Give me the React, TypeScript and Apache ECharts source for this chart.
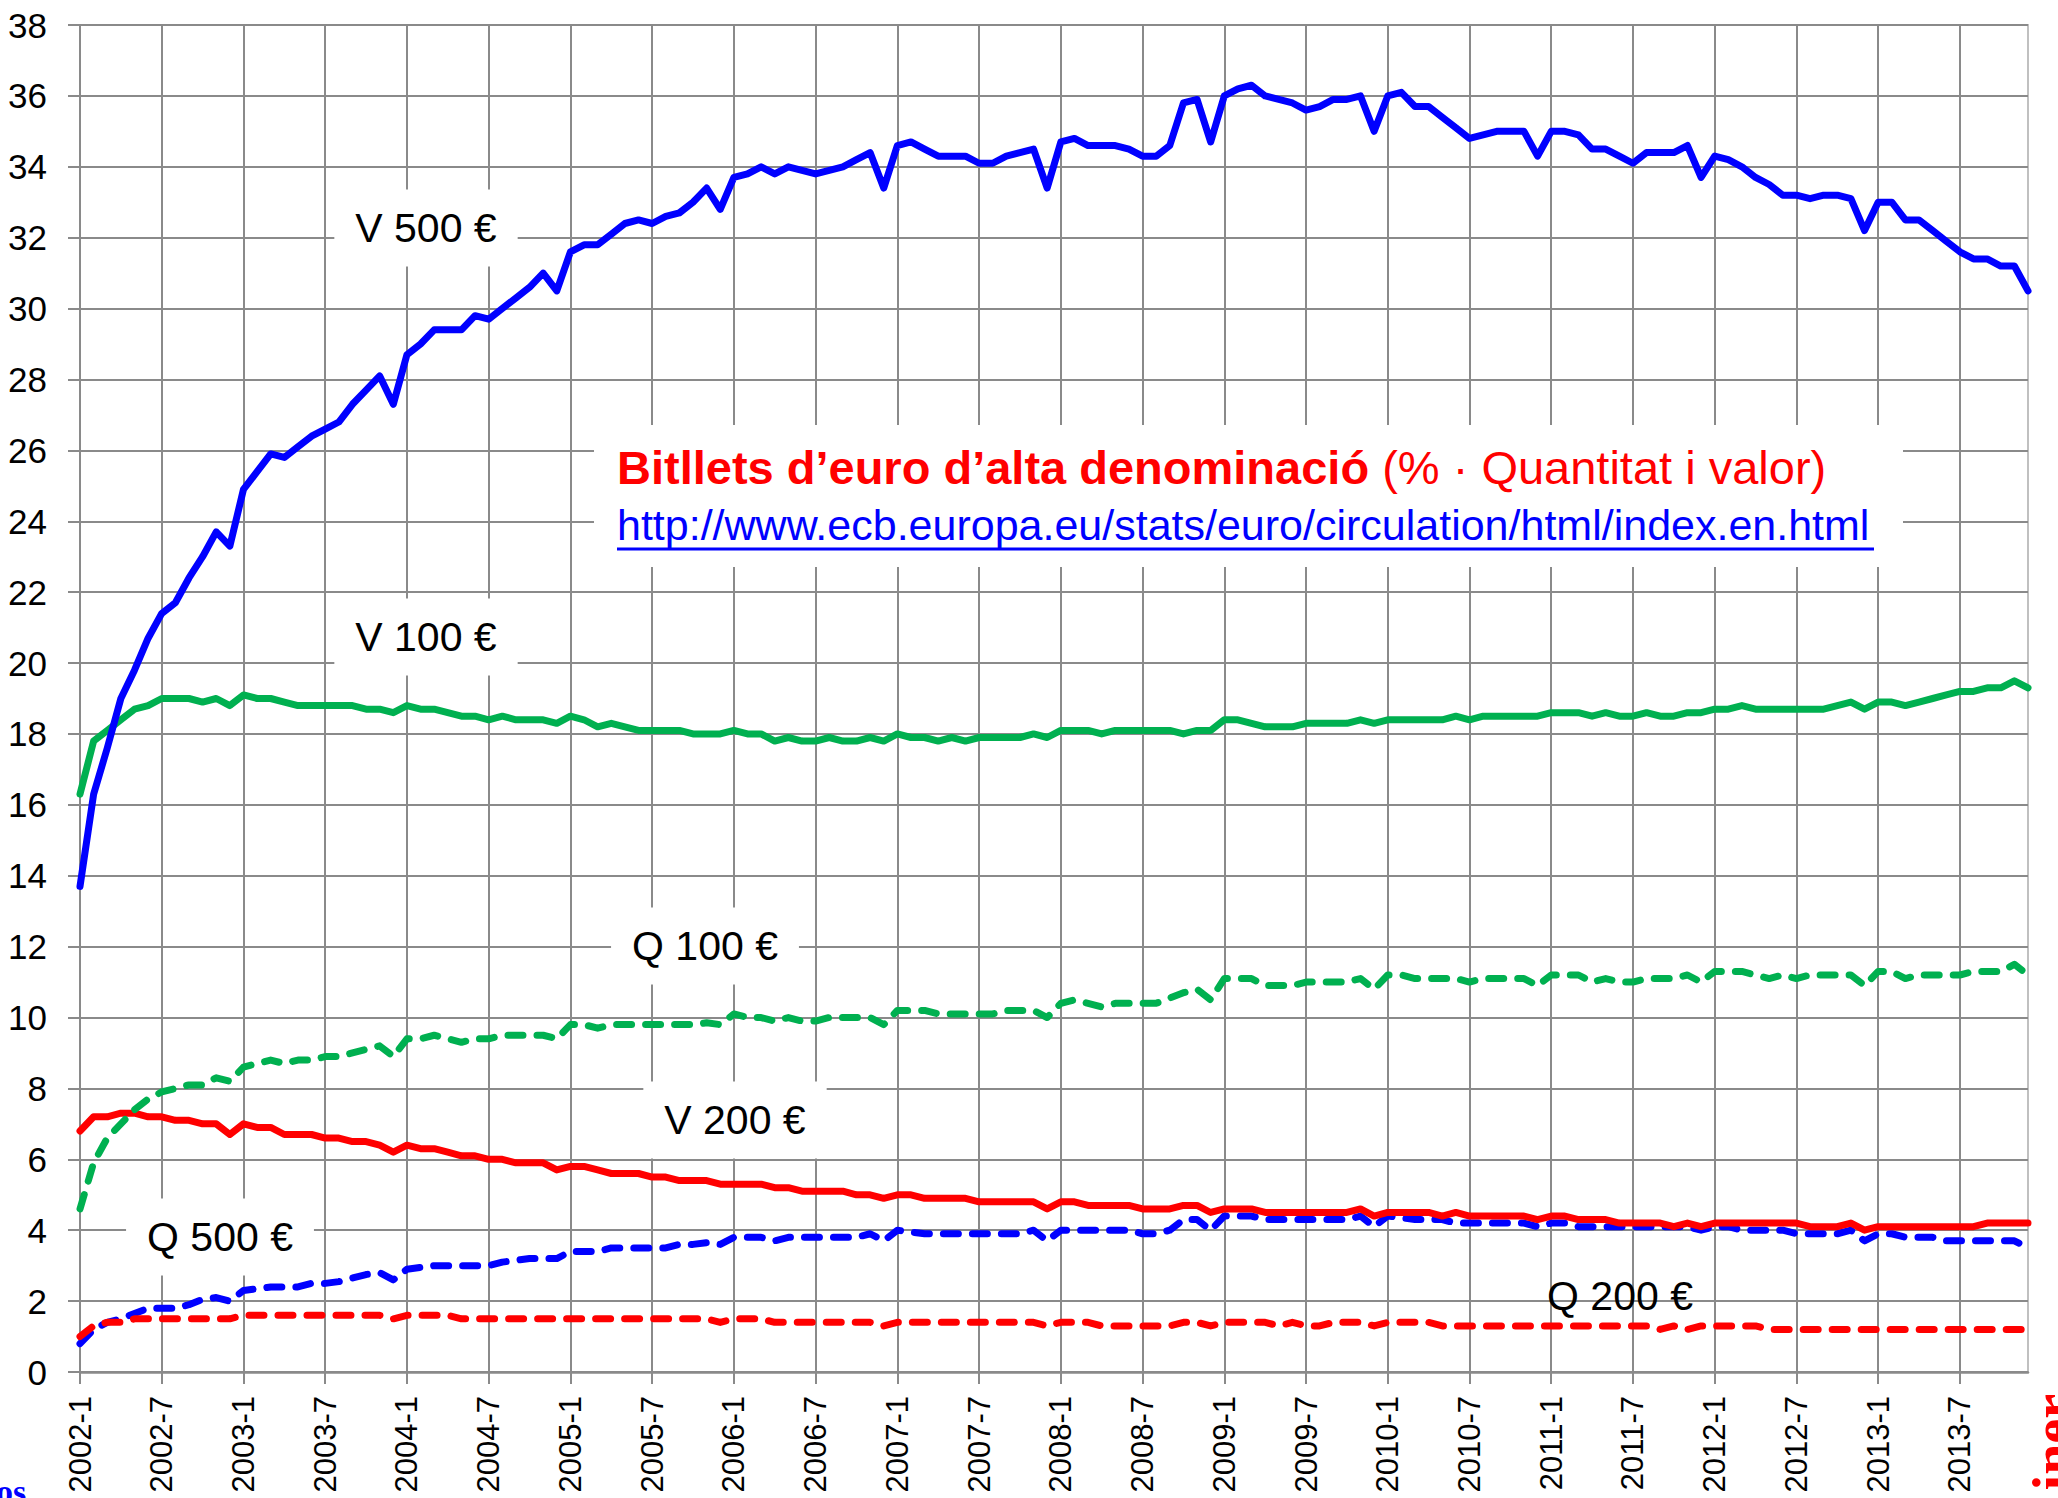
import React, { useEffect, useRef } from "react";
import * as echarts from "echarts";

const years = [2002, 2003, 2004, 2005, 2006, 2007, 2008, 2009, 2010, 2011, 2012, 2013];
const months = [1, 2, 3, 4, 5, 6, 7, 8, 9, 10, 11, 12];
const categories: string[] = [];
years.forEach((y) => months.forEach((m) => categories.push(`${y}-${m}`)));

const yTicks = { min: 0, max: 38, interval: 2 };

const v500 = [
  13.7, 16.3, 17.6, 19.0, 19.8, 20.7, 21.4, 21.7, 22.4, 23.0,
  23.7, 23.3, 24.9, 25.4, 25.9, 25.8, 26.1, 26.4, 26.6, 26.8,
  27.3, 27.7, 28.1, 27.3, 28.7, 29.0, 29.4, 29.4, 29.4, 29.8,
  29.7, 30.0, 30.3, 30.6, 31.0, 30.5, 31.6, 31.8, 31.8, 32.1,
  32.4, 32.5, 32.4, 32.6, 32.7, 33.0, 33.4, 32.8, 33.7, 33.8,
  34.0, 33.8, 34.0, 33.9, 33.8, 33.9, 34.0, 34.2, 34.4, 33.4,
  34.6, 34.7, 34.5, 34.3, 34.3, 34.3, 34.1, 34.1, 34.3, 34.4,
  34.5, 33.4, 34.7, 34.8, 34.6, 34.6, 34.6, 34.5, 34.3, 34.3,
  34.6, 35.8, 35.9, 34.7, 36.0, 36.2, 36.3, 36.0, 35.9, 35.8,
  35.6, 35.7, 35.9, 35.9, 36.0, 35.0, 36.0, 36.1, 35.7, 35.7,
  35.4, 35.1, 34.8, 34.9, 35.0, 35.0, 35.0, 34.3, 35.0, 35.0,
  34.9, 34.5, 34.5, 34.3, 34.1, 34.4, 34.4, 34.4, 34.6, 33.7,
  34.3, 34.2, 34.0, 33.7, 33.5, 33.2, 33.2, 33.1, 33.2, 33.2,
  33.1, 32.2, 33.0, 33.0, 32.5, 32.5, 32.2, 31.9, 31.6, 31.4,
  31.4, 31.2, 31.2, 30.5,
];

const v100 = [
  16.3, 17.8, 18.1, 18.4, 18.7, 18.8, 19.0, 19.0, 19.0, 18.9,
  19.0, 18.8, 19.1, 19.0, 19.0, 18.9, 18.8, 18.8, 18.8, 18.8,
  18.8, 18.7, 18.7, 18.6, 18.8, 18.7, 18.7, 18.6, 18.5, 18.5,
  18.4, 18.5, 18.4, 18.4, 18.4, 18.3, 18.5, 18.4, 18.2, 18.3,
  18.2, 18.1, 18.1, 18.1, 18.1, 18.0, 18.0, 18.0, 18.1, 18.0,
  18.0, 17.8, 17.9, 17.8, 17.8, 17.9, 17.8, 17.8, 17.9, 17.8,
  18.0, 17.9, 17.9, 17.8, 17.9, 17.8, 17.9, 17.9, 17.9, 17.9,
  18.0, 17.9, 18.1, 18.1, 18.1, 18.0, 18.1, 18.1, 18.1, 18.1,
  18.1, 18.0, 18.1, 18.1, 18.4, 18.4, 18.3, 18.2, 18.2, 18.2,
  18.3, 18.3, 18.3, 18.3, 18.4, 18.3, 18.4, 18.4, 18.4, 18.4,
  18.4, 18.5, 18.4, 18.5, 18.5, 18.5, 18.5, 18.5, 18.6, 18.6,
  18.6, 18.5, 18.6, 18.5, 18.5, 18.6, 18.5, 18.5, 18.6, 18.6,
  18.7, 18.7, 18.8, 18.7, 18.7, 18.7, 18.7, 18.7, 18.7, 18.8,
  18.9, 18.7, 18.9, 18.9, 18.8, 18.9, 19.0, 19.1, 19.2, 19.2,
  19.3, 19.3, 19.5, 19.3,
];

const q100 = [
  4.6, 5.9, 6.6, 7.0, 7.4, 7.7, 7.9, 8.0, 8.1, 8.1,
  8.3, 8.2, 8.6, 8.7, 8.8, 8.7, 8.8, 8.8, 8.9, 8.9,
  9.0, 9.1, 9.2, 8.9, 9.4, 9.4, 9.5, 9.4, 9.3, 9.4,
  9.4, 9.5, 9.5, 9.5, 9.5, 9.4, 9.8, 9.8, 9.7, 9.8,
  9.8, 9.8, 9.8, 9.8, 9.8, 9.8, 9.85, 9.8, 10.1, 10.0,
  10.0, 9.9, 10.0, 9.9, 9.9, 10.0, 10.0, 10.0, 10.0, 9.8,
  10.2, 10.2, 10.2, 10.1, 10.1, 10.1, 10.1, 10.1, 10.2, 10.2,
  10.2, 10.0, 10.4, 10.5, 10.4, 10.3, 10.4, 10.4, 10.4, 10.4,
  10.55, 10.7, 10.8, 10.5, 11.1, 11.1, 11.1, 10.9, 10.9, 10.9,
  11.0, 11.0, 11.0, 11.0, 11.1, 10.8, 11.2, 11.2, 11.1, 11.1,
  11.1, 11.1, 11.0, 11.1, 11.1, 11.1, 11.1, 10.9, 11.2, 11.2,
  11.2, 11.0, 11.1, 11.0, 11.0, 11.1, 11.1, 11.1, 11.2, 11.0,
  11.3, 11.3, 11.3, 11.2, 11.1, 11.2, 11.1, 11.2, 11.2, 11.2,
  11.2, 10.9, 11.3, 11.3, 11.1, 11.2, 11.2, 11.2, 11.2, 11.3,
  11.3, 11.3, 11.5, 11.2,
];

const v200 = [
  6.8, 7.2, 7.2, 7.3, 7.3, 7.2, 7.2, 7.1, 7.1, 7.0,
  7.0, 6.7, 7.0, 6.9, 6.9, 6.7, 6.7, 6.7, 6.6, 6.6,
  6.5, 6.5, 6.4, 6.2, 6.4, 6.3, 6.3, 6.2, 6.1, 6.1,
  6.0, 6.0, 5.9, 5.9, 5.9, 5.7, 5.8, 5.8, 5.7, 5.6,
  5.6, 5.6, 5.5, 5.5, 5.4, 5.4, 5.4, 5.3, 5.3, 5.3,
  5.3, 5.2, 5.2, 5.1, 5.1, 5.1, 5.1, 5.0, 5.0, 4.9,
  5.0, 5.0, 4.9, 4.9, 4.9, 4.9, 4.8, 4.8, 4.8, 4.8,
  4.8, 4.6, 4.8, 4.8, 4.7, 4.7, 4.7, 4.7, 4.6, 4.6,
  4.6, 4.7, 4.7, 4.5, 4.6, 4.6, 4.6, 4.5, 4.5, 4.5,
  4.5, 4.5, 4.5, 4.5, 4.6, 4.4, 4.5, 4.5, 4.5, 4.5,
  4.4, 4.5, 4.4, 4.4, 4.4, 4.4, 4.4, 4.3, 4.4, 4.4,
  4.3, 4.3, 4.3, 4.2, 4.2, 4.2, 4.2, 4.1, 4.2, 4.1,
  4.2, 4.2, 4.2, 4.2, 4.2, 4.2, 4.2, 4.1, 4.1, 4.1,
  4.2, 4.0, 4.1, 4.1, 4.1, 4.1, 4.1, 4.1, 4.1, 4.1,
  4.2, 4.2, 4.2, 4.2,
];

const q500 = [
  0.8, 1.2, 1.4, 1.5, 1.65, 1.8, 1.8, 1.8, 1.9, 2.05,
  2.1, 2.0, 2.3, 2.35, 2.4, 2.4, 2.4, 2.5, 2.5, 2.55,
  2.65, 2.75, 2.8, 2.6, 2.9, 2.95, 3.0, 3.0, 3.0, 3.0,
  3.0, 3.1, 3.15, 3.2, 3.2, 3.2, 3.4, 3.4, 3.4, 3.5,
  3.5, 3.5, 3.5, 3.5, 3.6, 3.6, 3.65, 3.6, 3.8, 3.8,
  3.8, 3.7, 3.8, 3.8, 3.8, 3.8, 3.8, 3.8, 3.9, 3.7,
  4.0, 3.95, 3.9, 3.9, 3.9, 3.9, 3.9, 3.9, 3.9, 3.9,
  4.0, 3.7, 4.0, 4.0, 4.0, 4.0, 4.0, 4.0, 3.9, 3.9,
  4.0, 4.3, 4.3, 4.0, 4.4, 4.4, 4.4, 4.3, 4.3, 4.3,
  4.3, 4.3, 4.3, 4.3, 4.4, 4.1, 4.4, 4.35, 4.3, 4.3,
  4.3, 4.2, 4.2, 4.2, 4.2, 4.2, 4.2, 4.1, 4.2, 4.2,
  4.1, 4.1, 4.1, 4.1, 4.1, 4.1, 4.1, 4.1, 4.1, 4.0,
  4.1, 4.1, 4.0, 4.0, 4.0, 4.0, 3.9, 3.9, 3.9, 3.9,
  4.0, 3.7, 3.9, 3.9, 3.8, 3.8, 3.8, 3.7, 3.7, 3.7,
  3.7, 3.7, 3.7, 3.5,
];

const q200 = [
  1.0, 1.3, 1.4, 1.4, 1.5, 1.5, 1.5, 1.5, 1.5, 1.5,
  1.5, 1.5, 1.6, 1.6, 1.6, 1.6, 1.6, 1.6, 1.6, 1.6,
  1.6, 1.6, 1.6, 1.5, 1.6, 1.6, 1.6, 1.6, 1.5, 1.5,
  1.5, 1.5, 1.5, 1.5, 1.5, 1.5, 1.5, 1.5, 1.5, 1.5,
  1.5, 1.5, 1.5, 1.5, 1.5, 1.5, 1.5, 1.4, 1.5, 1.5,
  1.5, 1.4, 1.4, 1.4, 1.4, 1.4, 1.4, 1.4, 1.4, 1.3,
  1.4, 1.4, 1.4, 1.4, 1.4, 1.4, 1.4, 1.4, 1.4, 1.4,
  1.4, 1.3, 1.4, 1.4, 1.4, 1.3, 1.3, 1.3, 1.3, 1.3,
  1.3, 1.4, 1.4, 1.3, 1.4, 1.4, 1.4, 1.4, 1.3, 1.4,
  1.3, 1.3, 1.4, 1.4, 1.4, 1.3, 1.4, 1.4, 1.4, 1.4,
  1.3, 1.3, 1.3, 1.3, 1.3, 1.3, 1.3, 1.3, 1.3, 1.3,
  1.3, 1.3, 1.3, 1.3, 1.3, 1.3, 1.2, 1.3, 1.2, 1.3,
  1.3, 1.3, 1.3, 1.3, 1.2, 1.2, 1.2, 1.2, 1.2, 1.2,
  1.2, 1.2, 1.2, 1.2, 1.2, 1.2, 1.2, 1.2, 1.2, 1.2,
  1.2, 1.2, 1.2, 1.2,
];

const titleBold = "Bitllets d\u2019euro d\u2019alta denominaci\u00f3";
const titleRegular = " (% \u00b7 Quantitat i valor)";
const linkText = "http://www.ecb.europa.eu/stats/euro/circulation/html/index.en.html";

const seriesLabels = [
  { text: "V 500 \u20ac", x: 426, y: 228, box: true },
  { text: "V 100 \u20ac", x: 426, y: 637, box: true },
  { text: "Q 100 \u20ac", x: 705, y: 946, box: true },
  { text: "V 200 \u20ac", x: 735, y: 1120, box: true },
  { text: "Q 500 \u20ac", x: 220, y: 1237, box: true },
  { text: "Q 200 \u20ac", x: 1620, y: 1296, box: false },
];

const FONT = "'Liberation Sans', Arial, sans-serif";
const NARROW = "'Liberation Sans Narrow', 'Arial Narrow', 'Liberation Sans', sans-serif";
const SERIF = "'Liberation Serif', 'DejaVu Serif', serif";
const BLUE = "#0000FF";
const RED = "#FF0000";
const GREEN = "#00B050";
const GRID = "#8a8a8a";

function solid(color: string) {
  return { color, width: 7, type: "solid", join: "round", cap: "round" };
}
function dashed(color: string) {
  return { color, width: 7, type: [15, 14], join: "round", cap: "round" };
}

export default function App() {
  const ref = useRef<HTMLDivElement>(null);
  useEffect(() => {
    document.body.style.margin = "0";
    document.body.style.overflow = "hidden";
    if (!ref.current) return;
    const chart = echarts.init(ref.current, undefined, { renderer: "svg" });

    const mk = (name: string, data: number[], ls: any) => ({
      name,
      type: "line",
      data,
      symbol: "none",
      lineStyle: ls,
      itemStyle: { color: ls.color },
      silent: true,
    });

    const labelEls: any[] = seriesLabels.map((l) => ({
      type: "text",
      z: 50,
      x: l.x,
      y: l.y,
      style: {
        text: l.text,
        font: `41px ${FONT}`,
        fill: "#000",
        align: "center",
        verticalAlign: "middle",
        backgroundColor: l.box ? "#fff" : undefined,
        padding: l.box ? [18, 21] : 0,
      },
    }));

    chart.setOption({
      animation: false,
      backgroundColor: "#fff",
      grid: {
        left: 80,
        right: 30,
        top: 25,
        bottom: 126,
        show: true,
        borderColor: "#c0c0c0",
        borderWidth: 2,
        containLabel: false,
      },
      xAxis: {
        type: "category",
        data: categories,
        boundaryGap: false,
        axisLine: { show: true, lineStyle: { color: GRID, width: 2.5 } },
        axisTick: { show: true, interval: 5, length: 12, lineStyle: { color: GRID, width: 2 } },
        axisLabel: {
          interval: 5,
          rotate: 90,
          margin: 24,
          fontFamily: FONT,
          fontSize: 31,
          color: "#000",
        },
        splitLine: { show: true, interval: 5, lineStyle: { color: GRID, width: 2 } },
      },
      yAxis: {
        type: "value",
        min: yTicks.min,
        max: yTicks.max,
        interval: yTicks.interval,
        axisLine: { show: true, lineStyle: { color: GRID, width: 2 } },
        axisTick: { show: true, length: 12, lineStyle: { color: GRID, width: 2 } },
        axisLabel: { margin: 33, fontFamily: NARROW, fontSize: 35, color: "#000" },
        splitLine: { show: true, lineStyle: { color: GRID, width: 2 } },
      },
      series: [
        mk("Q 500 \u20ac", q500, dashed(BLUE)),
        mk("Q 200 \u20ac", q200, dashed(RED)),
        mk("V 200 \u20ac", v200, solid(RED)),
        mk("Q 100 \u20ac", q100, dashed(GREEN)),
        mk("V 100 \u20ac", v100, solid(GREEN)),
        mk("V 500 \u20ac", v500, solid(BLUE)),
      ],
      graphic: [
        {
          type: "rect",
          z: 40,
          shape: { x: 594, y: 425, width: 1309, height: 142 },
          style: { fill: "#fff" },
        },
        {
          type: "text",
          z: 50,
          x: 617,
          y: 467,
          style: {
            text: `{b|${titleBold}}{r|${titleRegular}}`,
            verticalAlign: "middle",
            rich: {
              b: { fontFamily: FONT, fontSize: 47, fontWeight: "bold", fill: RED, color: RED },
              r: { fontFamily: FONT, fontSize: 47, fill: RED, color: RED },
            },
          },
        },
        {
          type: "text",
          z: 50,
          x: 617,
          y: 525,
          style: {
            text: linkText,
            font: `43px ${FONT}`,
            fill: BLUE,
            verticalAlign: "middle",
          },
        },
        {
          type: "line",
          z: 50,
          shape: { x1: 617, y1: 549, x2: 1874, y2: 549 },
          style: { stroke: BLUE, lineWidth: 3 },
        },
        ...labelEls,
        {
          type: "text",
          z: 60,
          x: -4,
          y: 1491,
          style: {
            text: "os",
            font: `bold 34px ${SERIF}`,
            fill: BLUE,
            align: "left",
            verticalAlign: "middle",
          },
        },
        {
          type: "text",
          z: 60,
          x: 2053,
          y: 1394,
          rotation: Math.PI / 2,
          style: {
            text: "iner",
            font: `bold 56px ${SERIF}`,
            fill: RED,
            align: "right",
            verticalAlign: "middle",
          },
        },
      ],
    });
    return () => chart.dispose();
  }, []);
  return <div ref={ref} style={{ width: 2058, height: 1498 }} />;
}
